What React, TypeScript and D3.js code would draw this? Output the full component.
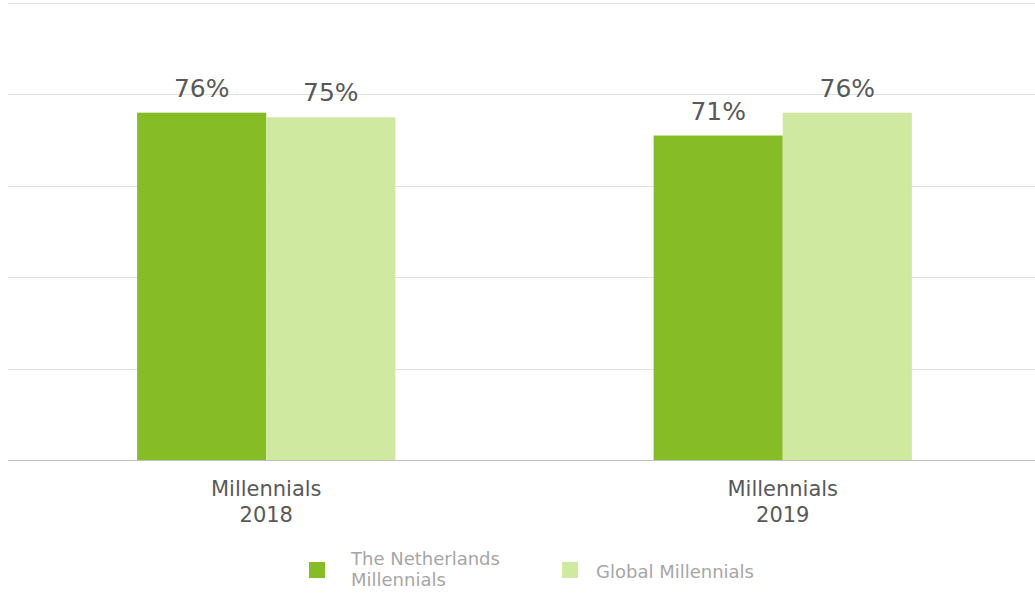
import React from "react";
import * as d3 from "d3";

const categories = ["Millennials\n2018", "Millennials\n2019"];
const seriesNames = ["The Netherlands\nMillennials", "Global Millennials"];
const netherlands = [76, 71];
const global = [75, 76];
const gridTicks = [0, 20, 40, 60, 80, 100];
const colors = ["#86BC25", "#D0E9A0"];

const W = 1035;
const H = 593;
const left = 8;
const top = 3;
const bottom = 460;

export default function App() {
  const x0 = d3.scaleBand<string>().domain(categories).range([left, 1041]).padding(0);
  const x1 = d3
    .scaleBand<string>()
    .domain(seriesNames)
    .range([x0.bandwidth() * 0.25, x0.bandwidth() * 0.75])
    .padding(0);
  const y = d3.scaleLinear().domain([0, 100]).range([bottom, top]);
  const series = [netherlands, global];
  const font = "'DejaVu Sans', Verdana, sans-serif";

  return (
    <svg width={W} height={H} style={{ position: "absolute", left: 0, top: 0 }} fontFamily={font}>
      <rect width={W} height={H} fill="#fff" />
      {gridTicks.slice(1).map((t) => (
        <line key={t} x1={left} x2={W} y1={Math.round(y(t)) + 0.5} y2={Math.round(y(t)) + 0.5} stroke="#e0e0e0" strokeWidth={1} />
      ))}
      {categories.map((c, ci) => (
        <g key={c} transform={`translate(${x0(c)},0)`}>
          {seriesNames.map((s, si) => {
            const v = series[si][ci];
            const bx = x1(s)!;
            const bw = x1.bandwidth();
            return (
              <g key={s}>
                <rect x={bx} y={y(v)} width={bw} height={bottom - y(v)} fill={colors[si]} />
                <text x={bx + bw / 2} y={y(v) - 16} textAnchor="middle" fontSize={25} fill="#595959">
                  {v}%
                </text>
              </g>
            );
          })}
          {c.split("\n").map((line, li) => (
            <text key={li} x={x0.bandwidth() / 2} y={496 + li * 26} textAnchor="middle" fontSize={21} fill="#595959">
              {line}
            </text>
          ))}
        </g>
      ))}
      <line x1={left} x2={W} y1={bottom + 0.5} y2={bottom + 0.5} stroke="#bfbfbf" strokeWidth={1} />
      {/* legend */}
      <g>
        <rect x={309} y={562} width={16} height={16} fill={colors[0]} />
        {seriesNames[0].split("\n").map((line, li) => (
          <text key={li} x={351} y={565 + li * 21} fontSize={18} fill="#a6a6a6">
            {line}
          </text>
        ))}
        <rect x={562} y={562} width={16} height={16} fill={colors[1]} />
        <text x={596} y={578} fontSize={18} fill="#a6a6a6">
          {seriesNames[1]}
        </text>
      </g>
    </svg>
  );
}
